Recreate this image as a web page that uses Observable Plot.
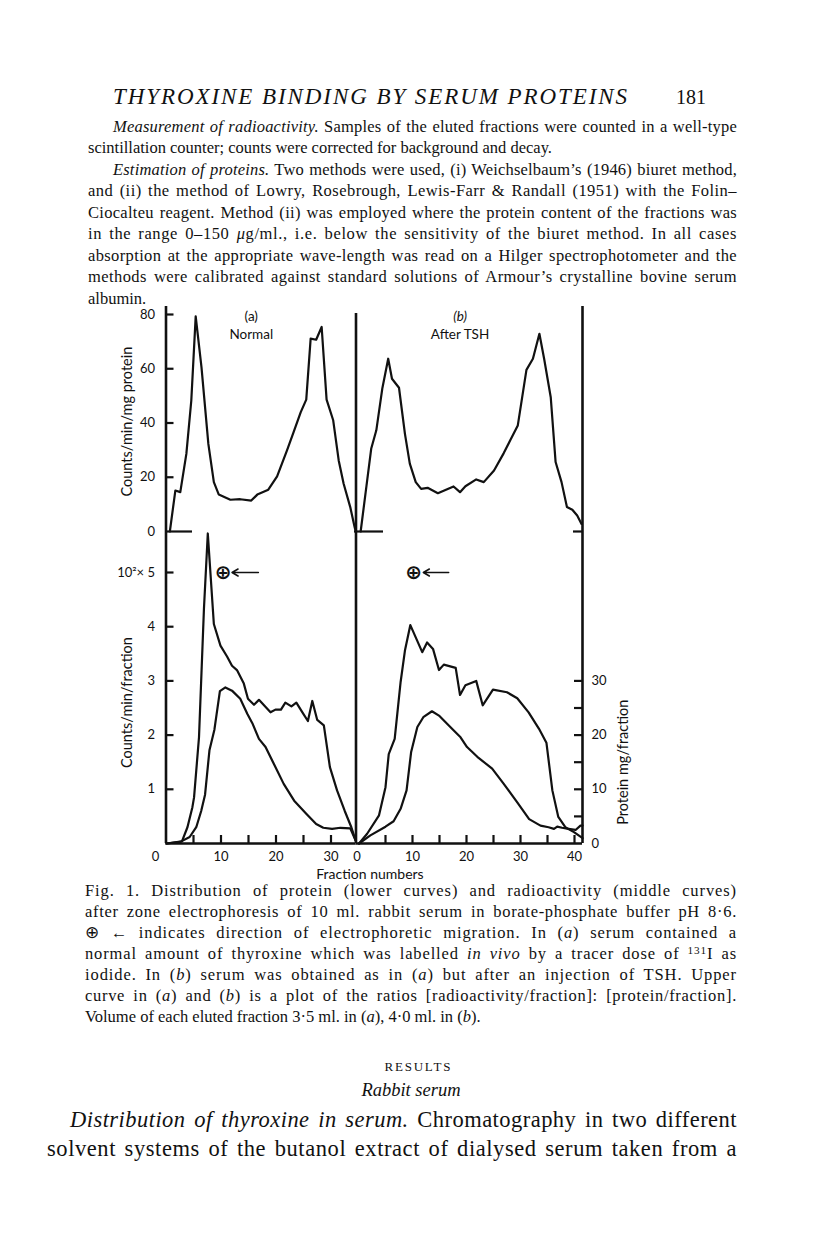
<!DOCTYPE html>
<html>
<head>
<meta charset="utf-8">
<script src="https://cdn.jsdelivr.net/npm/d3@7"></script>
<script src="https://cdn.jsdelivr.net/npm/@observablehq/plot@0.6"></script>
<style>
  html, body { margin:0; padding:0; background:#fff; }
  body { width:816px; height:1234px; position:relative; overflow:hidden; color:#111; }
  .ln { position:absolute; white-space:nowrap; font-family:"Liberation Serif","Times New Roman",serif; }
  .sup { font-size:0.68em; position:relative; top:-0.42em; line-height:0; }
</style>
</head>
<body>
<script>
// ---------------- DATA ----------------
// (a) Normal — upper curve: ratio, counts/min/mg protein
const topAFrac = [0.7,1.7,2.6,3.7,4.6,5.4,6.45,7.7,8.7,9.6,11.7,13.5,15.5,16.6,18.6,20.2,22.0,23.2,24.5,25.5,26.3,27.3,28.3,29.2,30.4,31.4,32.3,33.5,34.3,34.5];
const topAVal  = [0,15.1,14.5,28.6,48.3,79.3,60.6,32.3,18.2,13.6,11.7,11.9,11.4,13.6,15.4,20.3,29.9,36.6,44,48.6,71.1,70.7,75.4,48.6,41,26.2,17.6,9.0,1.6,0];
// (b) After TSH — upper curve
const topBFrac = [0.4,2.35,3.3,4.4,5.5,6.2,7.5,8.6,9.5,10.6,11.6,12.8,14.7,17.6,18.8,19.8,21.8,23.2,25.1,26.9,28.1,29.5,31.1,32.3,33.5,34.4,35.6,36.5,37.6,38.6,39.6,40.5,41.3];
const topBVal  = [0,30.5,37.3,52.6,63.7,56.3,53.0,36.0,25.0,18.2,15.7,16.1,14.1,16.6,14.5,16.7,19.2,18.2,22.5,28.9,33.6,39.1,59.6,63.7,72.9,63.4,49.5,25.6,18.2,9.0,8.0,5.9,2.8];
// (a) radioactivity, 10^2 counts/min/fraction
const radAFrac   = [0.1,2.9,3.9,4.8,5.1,6.0,6.9,7.6,8.7,9.9,11.1,12.0,12.9,14.15,14.9,16.0,16.9,19.0,19.9,20.9,21.7,22.8,23.7,24.8,25.8,26.6,27.5,28.7,29.8,31.1,32.5,33.7,34.5];
const radACounts = [0,0.04,0.3,0.67,0.85,1.96,4.33,5.72,4.05,3.65,3.45,3.28,3.2,2.95,2.67,2.56,2.65,2.42,2.47,2.47,2.6,2.53,2.6,2.42,2.26,2.63,2.28,2.18,1.41,0.98,0.6,0.3,0.05];
// (a) protein, mg/fraction
const protAFrac = [0.1,2.6,4.3,5.5,6.4,7.1,7.9,8.8,9.8,10.8,12.0,13.5,14.8,15.7,16.9,18.1,19.6,21.4,23.3,25.5,27.3,28.6,30.2,31.7,33.5,34.5];
const protAMg   = [0,0.3,1.2,3,6,9,17.2,21,28.1,28.8,28.2,26.7,23.9,22.2,19.3,17.8,14.7,11,7.9,5.5,3.6,2.9,2.7,2.9,2.8,0.5];
// (b) radioactivity
const radBFrac   = [0.1,1.6,3.8,5.0,5.6,6.7,7.8,8.6,9.6,10.7,11.8,12.7,13.8,14.9,15.8,18.0,18.8,19.8,21.8,23.0,24.9,27.5,29.4,31.5,33.4,34.8,35.9,37.0,38.3,39.9,41.5];
const radBCounts = [0,0.18,0.52,1.04,1.65,1.93,2.98,3.56,4.03,3.78,3.53,3.71,3.59,3.2,3.3,3.24,2.74,2.92,3.0,2.55,2.84,2.79,2.68,2.42,2.12,1.86,0.98,0.49,0.3,0.21,0.1];
// (b) protein
const protBFrac = [0.1,2.2,5.0,6.5,7.8,8.9,9.75,10.9,12.0,13.6,14.9,17.0,18.9,20.1,22.0,24.75,26.9,29.4,31.6,33.7,35.2,36.2,36.8,37.7,38.9,40.2,41.1,41.5];
const protBMg   = [0,1.5,3.1,4.1,6.4,9.8,16.9,21.5,23.3,24.4,23.6,21.5,19.6,17.8,16.0,13.8,11.0,7.6,4.5,3.3,3.0,2.7,3.1,2.9,2.7,2.5,3.3,3.3];

// ticks
const ratioTicks   = [0,20,40,60,80];
const countTicks   = [1,2,3,4,5];
const proteinTicks = [0,5,10,15,20,25,30];
const proteinLabels = [0,10,20,30];
const fracTicksA   = [5,10,15,20,25,30];
const fracLabelsA  = [10,20,30];
const fracTicksB   = [5,10,15,20,25,30,35,40];
const fracLabelsB  = [10,20,30,40];
const MG_PER_COUNT = 10; // right axis: 10 mg/fraction level with 1 (x10^2) counts/min/fraction

// annotations: direction of migration (⊕ ←)
const migration = [
  {panel:"a", f:10.4, v:5.0, from:16.8, to:12.0},
  {panel:"b", f:10.2, v:5.0, from:16.7, to:12.0}
];
const titles = [
  {panel:"a", label:"(a)", sub:"Normal", f:15.5},
  {panel:"b", label:"(b)", sub:"After TSH", f:18.8}
];
const axisTitles = [
  {panel:"aTop", text:"Counts/min/mg protein", v:40.5},
  {panel:"aBot", text:"Counts/min/fraction", v:2.6},
  {panel:"bBot", text:"Protein mg/fraction", v:1.5}
];

// ---------------- LAYOUT ----------------
const ink = "#111";
const SANS = "Lato, 'Open Sans', sans-serif";
const FIG_H = 900;
const TICK = 8;
const LY = {
  aLeft:165.5, aRight:355.5, aZero:165.5, aPer:5.5,
  bLeft:355.5, bRight:582,   bZero:358,   bPer:5.4,
  topTop:306, topBottom:531, topPer:2.7125,
  botTop:531, botBottom:843, botPer:54.2,
  dividerTop:313, leftTitleX:127, rightTitleX:623
};

const pts = (fs, vs, key="v") => fs.map((f,i)=>({f, [key]: vs[i]}));

function panel(xl, xr, x0, xper, yt, yb, yper, build) {
  const xd = [(xl - x0)/xper, (xr - x0)/xper];
  const yd = [0, (yb - yt)/yper];
  const svg = Plot.plot({
    width:816, height:FIG_H,
    marginLeft:xl, marginRight:816 - xr, marginTop:yt, marginBottom:FIG_H - yb,
    x:{domain:xd, axis:null, label:null},
    y:{domain:yd, axis:null, label:null},
    style:{background:"transparent", fontFamily:SANS, fontSize:"13px", color:ink, overflow:"visible"},
    marks: build(xd, yd, xper, yper)
  });
  svg.style.position = "absolute"; svg.style.left = "0px"; svg.style.top = "0px";
  document.body.appendChild(svg);
}

const AX = {stroke:ink, strokeWidth:2.6};
const CURVE = {x:"f", stroke:ink, strokeWidth:2.2, strokeLinejoin:"round", strokeLinecap:"round"};
const PLUS = {x:"f", y:"v", text:()=>"⊕", fontFamily:"DejaVu Sans", fontSize:20, fontWeight:"bold"};
const VTITLE = {y:"v", rotate:-90, text:"text", fontSize:14.5, textAnchor:"middle", lineAnchor:"middle"};

// top (a)
panel(LY.aLeft, LY.aRight, LY.aZero, LY.aPer, LY.topTop, LY.topBottom, LY.topPer, (xd, yd, xper, yper) => [
  Plot.ruleX([xd[0]], AX),
  Plot.ruleX([xd[1]], {...AX, y1:0, y2:(LY.topBottom - LY.dividerTop)/yper}),
  Plot.ruleY(ratioTicks.filter(d=>d>0), {x1:xd[0], x2:xd[0] + TICK/xper, stroke:ink, strokeWidth:2.2}),
  Plot.ruleY([0], {x1:xd[0], x2:(192 - LY.aZero)/xper, stroke:ink, strokeWidth:2.2}),
  Plot.axisY(ratioTicks, {anchor:"left", tickSize:0, tickPadding:11, label:null}),
  Plot.line(pts(topAFrac, topAVal), {...CURVE, y:"v"}),
  Plot.text(titles.filter(d=>d.panel==="a"), {x:"f", frameAnchor:"top", dy:5, text:"label", fontSize:13.5}),
  Plot.text(titles.filter(d=>d.panel==="a"), {x:"f", frameAnchor:"top", dy:23, text:"sub", fontSize:13.5}),
  Plot.text(axisTitles.filter(d=>d.panel==="aTop"), {...VTITLE, frameAnchor:"left", dx:LY.leftTitleX - LY.aLeft})
]);

// bottom (a)
panel(LY.aLeft, LY.aRight, LY.aZero, LY.aPer, LY.botTop, LY.botBottom, LY.botPer, (xd, yd, xper, yper) => [
  Plot.ruleX([xd[0]], AX),
  Plot.ruleX([xd[1]], AX),
  Plot.ruleY([0], AX),
  Plot.ruleY(countTicks, {x1:xd[0], x2:xd[0] + TICK/xper, stroke:ink, strokeWidth:2.2}),
  Plot.ruleX(fracTicksA, {y1:0, y2:TICK/yper, stroke:ink, strokeWidth:2.2}),
  Plot.axisY(countTicks, {anchor:"left", tickSize:0, tickPadding:11, label:null, tickFormat:d => d===5 ? "10²× 5" : String(d)}),
  Plot.axisX(fracLabelsA, {anchor:"bottom", tickSize:0, tickPadding:8, label:null}),
  Plot.axisX([0], {anchor:"bottom", tickSize:0, tickPadding:8, label:null, dx:-10.5}),
  Plot.line(pts(protAFrac, protAMg, "mg"), {...CURVE, y:d => d.mg / MG_PER_COUNT}),
  Plot.line(pts(radAFrac, radACounts), {...CURVE, y:"v"}),
  Plot.arrow(migration.filter(d=>d.panel==="a"), {x1:"from", x2:"to", y1:"v", y2:"v", stroke:ink, strokeWidth:1.5, headLength:7}),
  Plot.text(migration.filter(d=>d.panel==="a"), PLUS),
  Plot.text(axisTitles.filter(d=>d.panel==="aBot"), {...VTITLE, frameAnchor:"left", dx:LY.leftTitleX - LY.aLeft})
]);

// top (b)
panel(LY.bLeft, LY.bRight, LY.bZero, LY.bPer, LY.topTop, LY.topBottom, LY.topPer, (xd, yd, xper, yper) => [
  Plot.ruleX([xd[1]], AX),
  Plot.ruleY([0], {x1:(354 - LY.bZero)/xper, x2:(383 - LY.bZero)/xper, stroke:ink, strokeWidth:2.2}),
  Plot.ruleY([0], {x1:(573 - LY.bZero)/xper, x2:xd[1], stroke:ink, strokeWidth:2.2}),
  Plot.line(pts(topBFrac, topBVal), {...CURVE, y:"v"}),
  Plot.text(titles.filter(d=>d.panel==="b"), {x:"f", frameAnchor:"top", dy:5, text:"label", fontSize:13.5, fontStyle:"italic"}),
  Plot.text(titles.filter(d=>d.panel==="b"), {x:"f", frameAnchor:"top", dy:23, text:"sub", fontSize:13.5})
]);

// bottom (b)
panel(LY.bLeft, LY.bRight, LY.bZero, LY.bPer, LY.botTop, LY.botBottom, LY.botPer, (xd, yd, xper, yper) => [
  Plot.ruleX([xd[1]], AX),
  Plot.ruleY([0], AX),
  Plot.ruleX(fracTicksB, {y1:0, y2:TICK/yper, stroke:ink, strokeWidth:2.2}),
  Plot.ruleY(proteinTicks.filter(d=>d>0), {y:d => d / MG_PER_COUNT, x1:xd[1] - TICK/xper, x2:xd[1], stroke:ink, strokeWidth:2.2}),
  Plot.axisY(proteinLabels.map(d => d / MG_PER_COUNT), {anchor:"right", tickSize:0, tickPadding:9, label:null, tickFormat:d => String(Math.round(d * MG_PER_COUNT))}),
  Plot.axisX(fracLabelsB, {anchor:"bottom", tickSize:0, tickPadding:8, label:null}),
  Plot.axisX([0], {anchor:"bottom", tickSize:0, tickPadding:8, label:null, dx:-1.5}),
  Plot.line(pts(protBFrac, protBMg, "mg"), {...CURVE, y:d => d.mg / MG_PER_COUNT}),
  Plot.line(pts(radBFrac, radBCounts), {...CURVE, y:"v"}),
  Plot.arrow(migration.filter(d=>d.panel==="b"), {x1:"from", x2:"to", y1:"v", y2:"v", stroke:ink, strokeWidth:1.5, headLength:7}),
  Plot.text(migration.filter(d=>d.panel==="b"), PLUS),
  Plot.text(axisTitles.filter(d=>d.panel==="bBot"), {...VTITLE, frameAnchor:"right", dx:LY.rightTitleX - LY.bRight})
]);

// ---------------- TEXT ----------------
function line(html, {left = 0, right = 737, cy, size = 16, justify = true, center = null, italic = false, k = 0.6125, family = null, letterOnly = false}) {
  const d = document.createElement("div");
  d.className = "ln";
  if (family) d.style.fontFamily = family;
  d.style.fontSize = size + "px";
  d.style.lineHeight = size + "px";
  if (italic) d.style.fontStyle = "italic";
  d.innerHTML = html;
  document.body.appendChild(d);
  d.style.top = (cy - k * size) + "px";
  let w = d.getBoundingClientRect().width;
  if (justify && center == null) {
    const target = right - left;
    const text = d.textContent;
    const nChars = text.length;
    const nSpaces = (text.match(/ /g) || []).length;
    if (letterOnly || nSpaces === 0) {
      d.style.letterSpacing = ((target - w) / Math.max(1, nChars - 1)) + "px";
    } else {
      const ls = Math.max(-0.5, Math.min(0.9, (target - w) * 0.6 / nChars));
      d.style.letterSpacing = ls + "px";
      w = d.getBoundingClientRect().width;
      d.style.wordSpacing = ((target - w) / nSpaces) + "px";
    }
    d.style.left = left + "px";
  } else if (center != null) {
    d.style.left = (center - w / 2) + "px";
  } else {
    d.style.left = left + "px";
  }
  return d;
}

line("THYROXINE BINDING BY SERUM PROTEINS", {left:113, right:627, cy:97, size:23, italic:true, k:0.506, letterOnly:true});
line("181", {left:676, right:706, cy:97, size:20, k:0.506, letterOnly:true});

const body = [
  ["<i>Measurement of radioactivity.</i> Samples of the eluted fractions were counted in a well-type", 113, true],
  ["scintillation counter; counts were corrected for background and decay.", 88, false],
  ["<i>Estimation of proteins.</i> Two methods were used, (i) Weichselbaum’s (1946) biuret method,", 113, true],
  ["and (ii) the method of Lowry, Rosebrough, Lewis-Farr &amp; Randall (1951) with the Folin–", 88, true],
  ["Ciocalteu reagent. Method (ii) was employed where the protein content of the fractions was", 88, true],
  ["in the range 0–150 <i>μ</i>g/ml., i.e. below the sensitivity of the biuret method. In all cases", 88, true],
  ["absorption at the appropriate wave-length was read on a Hilger spectrophotometer and the", 88, true],
  ["methods were calibrated against standard solutions of Armour’s crystalline bovine serum", 88, true],
  ["albumin.", 88, false]
];
body.forEach(([h, l, j], i) => line(h, {left:l, cy:129 + i * 21.5, size:16.5, justify:j}));

line("Fraction numbers", {center:370, cy:876, size:14, family:SANS, k:0.634});

const caption = [
  ["Fig. 1. Distribution of protein (lower curves) and radioactivity (middle curves)", true],
  ["after zone electrophoresis of 10 ml. rabbit serum in borate-phosphate buffer pH 8·6.", true],
  ["⊕ ← indicates direction of electrophoretic migration. In (<i>a</i>) serum contained a", true],
  ["normal amount of thyroxine which was labelled <i>in vivo</i> by a tracer dose of <span class='sup'>131</span>I as", true],
  ["iodide. In (<i>b</i>) serum was obtained as in (<i>a</i>) but after an injection of TSH. Upper", true],
  ["curve in (<i>a</i>) and (<i>b</i>) is a plot of the ratios [radioactivity/fraction]: [protein/fraction].", true],
  ["Volume of each eluted fraction 3·5 ml. in (<i>a</i>), 4·0 ml. in (<i>b</i>).", false]
];
caption.forEach(([h, j], i) => line(h, {left:85, cy:893 + i * 21, size:16.5, justify:j}));

line("RESULTS", {center:412, cy:1067, size:13, k:0.506}).style.letterSpacing = "1.8px";
line("<i>Rabbit serum</i>", {center:411, cy:1092, size:18.5});
line("<i>Distribution of thyroxine in serum.</i> Chromatography in two different", {left:70, cy:1123, size:22.5});
line("solvent systems of the butanol extract of dialysed serum taken from a", {left:47, cy:1152, size:22.5});
</script>
</body>
</html>
